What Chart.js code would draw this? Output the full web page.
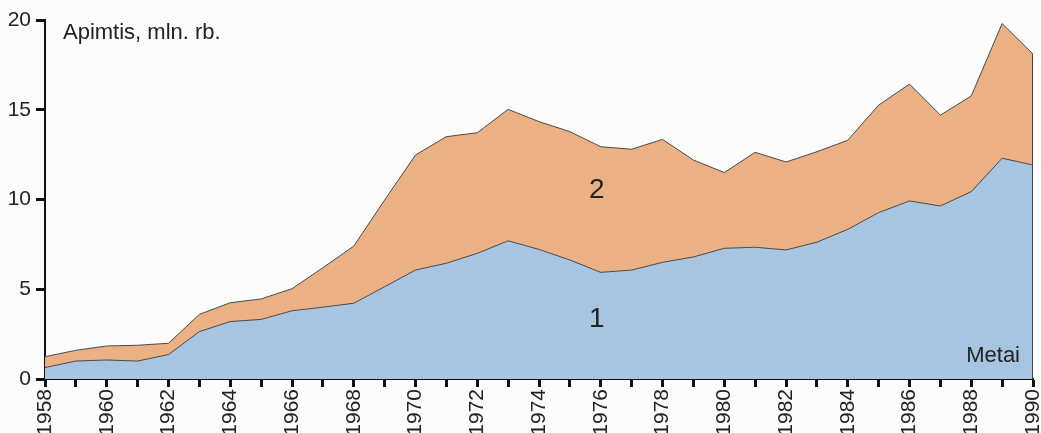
<!DOCTYPE html>
<html>
<head>
<meta charset="utf-8">
<script src="https://cdn.jsdelivr.net/npm/chart.js@4/dist/chart.umd.min.js"></script>
<style>
  html, body { margin: 0; padding: 0; background: #fcfcfc; }
  #wrap { width: 1041px; height: 433px; }
</style>
</head>
<body>
<div id="wrap"><canvas id="areaChart" width="1041" height="433"></canvas></div>
<script>
// Years on the x axis
const years = [
  1958, 1959, 1960, 1961, 1962, 1963, 1964, 1965, 1966, 1967, 1968,
  1969, 1970, 1971, 1972, 1973, 1974, 1975, 1976, 1977, 1978, 1979,
  1980, 1981, 1982, 1983, 1984, 1985, 1986, 1987, 1988, 1989, 1990,
];
// Layer 1 (blue, bottom)
const layer1 = [
  0.64, 1.0, 1.06, 1.0, 1.36, 2.64, 3.2, 3.32, 3.8, 4.0, 4.22,
  5.14, 6.07, 6.45, 7.0, 7.7, 7.22, 6.63, 5.94, 6.07, 6.5, 6.8,
  7.28, 7.34, 7.19, 7.62, 8.34, 9.27, 9.92, 9.64, 10.44, 12.3, 11.92,
];
// Top edge of layer 2 (layer 1 + layer 2)
const total = [
  1.24, 1.6, 1.84, 1.88, 1.99, 3.6, 4.25, 4.46, 5.03, 6.2, 7.4,
  9.97, 12.48, 13.5, 13.72, 15.02, 14.34, 13.78, 12.94, 12.8, 13.35, 12.2,
  11.5, 12.63, 12.09, 12.66, 13.3, 15.26, 16.43, 14.7, 15.77, 19.8, 18.1,
];
const yTicks = [0, 5, 10, 15, 20];

const FONT = "'Liberation Sans Narrow', 'Liberation Sans', Arial, sans-serif";

// text labels and right edge line
const textPlugin = {
  id: "textPlugin",
  afterDatasetsDraw(chart) {
    const c = chart.ctx;
    const x = chart.scales.x;
    const y = chart.scales.y;
    c.save();
    // right edge of the areas
    c.strokeStyle = "#444";
    c.lineWidth = 1;
    c.beginPath();
    c.moveTo(x.right - 0.5, y.getPixelForValue(total[total.length - 1]));
    c.lineTo(x.right - 0.5, y.getPixelForValue(0));
    c.stroke();

    c.fillStyle = "#222";
    c.font = "22px " + FONT;
    c.textBaseline = "middle";
    c.textAlign = "left";
    c.fillText("Apimtis, mln. rb.", 63, 33);
    c.textAlign = "right";
    c.fillText("Metai", 1020, 356);
    c.font = "28px " + FONT;
    c.textAlign = "center";
    const xi = x.getPixelForValue(18) - 4;
    c.fillText("2", xi, y.getPixelForValue(10.5));
    c.fillText("1", xi, y.getPixelForValue(3.3));
    c.restore();
  },
};

const ctx = document.getElementById("areaChart").getContext("2d");
const areaChart = new Chart(ctx, {
  type: "line",
  data: {
    labels: years,
    datasets: [
      {
        label: "1",
        data: layer1,
        borderColor: "#4a4a4a",
        borderWidth: 1,
        backgroundColor: "#a7c4e1",
        fill: "origin",
        pointRadius: 0,
        tension: 0,
      },
      {
        label: "2",
        data: total,
        borderColor: "#4a4a4a",
        borderWidth: 1,
        backgroundColor: "#ebb084",
        fill: "origin",
        pointRadius: 0,
        tension: 0,
      },
    ],
  },
  options: {
    responsive: false,
    animation: false,
    layout: { padding: { left: 0, right: 8, top: 20, bottom: 0 } },
    plugins: {
      legend: { display: false },
      tooltip: { enabled: false },
    },
    scales: {
      x: {
        type: "category",
        offset: false,
        border: { display: true, color: "#111", width: 2 },
        grid: {
          drawOnChartArea: false,
          drawTicks: true,
          tickLength: 8,
          tickWidth: 3,
          tickColor: "#111",
        },
        ticks: {
          autoSkip: false,
          maxRotation: 90,
          minRotation: 90,
          padding: 2,
          color: "#222",
          font: { family: FONT, size: 21 },
          callback: function (value, index) {
            return years[index] % 2 === 0 ? String(years[index]) : "";
          },
        },
        afterFit(scale) {
          scale.height = 54;
          scale.paddingLeft = 0;
          scale.paddingRight = 0;
        },
      },
      y: {
        min: 0,
        max: 20,
        border: { display: true, color: "#111", width: 2 },
        grid: {
          drawOnChartArea: false,
          drawTicks: true,
          tickLength: 9,
          tickWidth: 3,
          tickColor: "#111",
        },
        afterBuildTicks(scale) {
          scale.ticks = yTicks.map((v) => ({ value: v }));
        },
        ticks: {
          padding: 5,
          color: "#222",
          font: { family: FONT, size: 21 },
        },
        afterFit(scale) {
          scale.width = 45;
          scale.paddingTop = 0;
          scale.paddingBottom = 0;
        },
      },
    },
  },
  plugins: [textPlugin],
});
</script>
</body>
</html>
